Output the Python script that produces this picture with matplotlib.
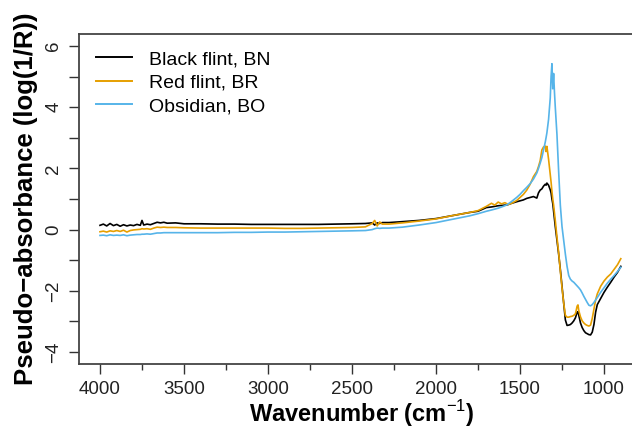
import matplotlib
matplotlib.use("Agg")
import matplotlib.pyplot as plt
import numpy as np

plt.rcParams['font.family'] = ['Liberation Sans', 'DejaVu Sans']
plt.rcParams['mathtext.fontset'] = 'custom'
plt.rcParams['mathtext.rm'] = 'Liberation Sans'
plt.rcParams['mathtext.bf'] = 'Liberation Sans:bold'

wavenumber = [4000, 3980, 3960, 3940, 3920, 3900, 3880, 3860, 3840, 3820, 3800, 3780,
              3760, 3750, 3740, 3720, 3700, 3680, 3660, 3640, 3620, 3600, 3550, 3500,
              3400, 3300, 3200, 3100, 3000, 2900, 2800, 2700, 2600, 2500, 2420, 2380,
              2365, 2350, 2335, 2320, 2280, 2200, 2100, 2000, 1900, 1800, 1750, 1700,
              1670, 1650, 1630, 1610, 1590, 1570, 1550, 1520, 1500, 1480, 1460, 1440,
              1420, 1400, 1390, 1380, 1370, 1360, 1350, 1345, 1340, 1330, 1320, 1315,
              1310, 1305, 1300, 1295, 1290, 1280, 1270, 1260, 1250, 1240, 1230, 1220,
              1210, 1200, 1190, 1180, 1170, 1160, 1155, 1150, 1140, 1130, 1120, 1110,
              1100, 1090, 1080, 1070, 1060, 1050, 1040, 1020, 1000, 980, 960, 940, 920, 900]

black_flint = [0.14, 0.18, 0.12, 0.20, 0.13, 0.17, 0.11, 0.16, 0.12, 0.15, 0.13, 0.17,
               0.14, 0.30, 0.15, 0.18, 0.16, 0.20, 0.24, 0.22, 0.24, 0.21, 0.22, 0.19,
               0.19, 0.18, 0.18, 0.17, 0.17, 0.17, 0.17, 0.17, 0.18, 0.19, 0.20, 0.22,
               0.15, 0.22, 0.20, 0.23, 0.23, 0.26, 0.30, 0.36, 0.46, 0.56, 0.60, 0.72,
               0.74, 0.76, 0.78, 0.79, 0.80, 0.82, 0.86, 0.91, 0.94, 0.97, 1.02, 1.05,
               1.08, 1.03, 1.20, 1.29, 1.33, 1.42, 1.48, 1.45, 1.52, 1.45, 1.30, 1.20,
               1.00, 0.85, 0.60, 0.35, 0.10, -0.35, -0.80, -1.30, -1.85, -2.40, -2.95, -3.13,
               -3.12, -3.10, -3.05, -2.98, -2.88, -2.70, -2.68, -2.80, -3.05, -3.20, -3.30, -3.37,
               -3.40, -3.43, -3.44, -3.35, -3.10, -2.70, -2.45, -2.25, -2.05, -1.88, -1.72, -1.55, -1.40, -1.20]

red_flint = [-0.07, -0.05, -0.08, -0.04, -0.06, -0.03, -0.06, -0.02, -0.08, -0.03, -0.01, 0.00,
             0.01, 0.03, 0.02, 0.03, 0.01, 0.05, 0.08, 0.07, 0.08, 0.07, 0.07, 0.06,
             0.05, 0.05, 0.05, 0.05, 0.05, 0.04, 0.04, 0.05, 0.06, 0.07, 0.09, 0.20,
             0.30, 0.12, 0.25, 0.18, 0.18, 0.22, 0.28, 0.35, 0.46, 0.56, 0.62, 0.76,
             0.86, 0.80, 0.90, 0.84, 0.88, 0.82, 0.86, 0.95, 1.05, 1.15, 1.29, 1.48,
             1.73, 1.90, 2.06, 2.25, 2.60, 2.70, 2.73, 2.55, 2.72, 2.30, 1.80, 1.55,
             1.25, 1.00, 0.80, 0.55, 0.30, -0.25, -0.75, -1.35, -1.90, -2.40, -2.80, -2.86,
             -2.86, -2.84, -2.83, -2.80, -2.75, -2.50, -2.46, -2.65, -2.85, -2.98, -3.05, -3.10,
             -3.13, -3.15, -3.12, -2.90, -2.60, -2.30, -2.10, -1.85, -1.68, -1.55, -1.45, -1.30, -1.15, -0.95]

obsidian = [-0.19, -0.18, -0.20, -0.17, -0.19, -0.18, -0.19, -0.17, -0.20, -0.18, -0.17, -0.16,
            -0.16, -0.15, -0.15, -0.14, -0.15, -0.13, -0.11, -0.11, -0.10, -0.10, -0.10, -0.10,
            -0.10, -0.10, -0.09, -0.09, -0.08, -0.08, -0.07, -0.06, -0.05, -0.04, -0.03, 0.00,
            0.03, 0.05, 0.04, 0.05, 0.05, 0.08, 0.15, 0.23, 0.34, 0.45, 0.52, 0.60,
            0.64, 0.67, 0.70, 0.74, 0.78, 0.84, 0.92, 1.05, 1.15, 1.27, 1.38, 1.50,
            1.65, 1.85, 2.00, 2.17, 2.35, 2.60, 2.85, 3.00, 3.16, 3.60, 4.30, 5.00,
            5.42, 4.60, 5.10, 4.50, 4.00, 3.10, 1.90, 0.80, 0.10, -0.35, -0.80, -1.20,
            -1.50, -1.62, -1.68, -1.72, -1.78, -1.84, -1.87, -1.90, -1.97, -2.07, -2.18, -2.28,
            -2.38, -2.47, -2.49, -2.45, -2.38, -2.30, -2.22, -2.05, -1.90, -1.75, -1.62, -1.50, -1.37, -1.23]

series_names = ["Black flint, BN", "Red flint, BR", "Obsidian, BO"]
series_colors = ["#000000", "#E69F00", "#56B4E9"]

W, H = 632, 428
fig = plt.figure(figsize=(W / 100, H / 100), dpi=100)
left, right, top, bottom = 79, 645, 34, 364
ax = fig.add_axes([left / W, (H - bottom) / H, (right - left) / W, (bottom - top) / H])

for vals, name, col in zip([black_flint, red_flint, obsidian], series_names, series_colors):
    ax.plot(wavenumber, vals, color=col, lw=1.2, label=name)

ax.set_xlim(4125, 756)
ax.set_ylim(-4.39, 6.39)

ax.set_xticks([4000, 3500, 3000, 2500, 2000, 1500, 1000])
ax.set_xticks([3750, 3250, 2750, 2250, 1750, 1250], minor=True)
ax.set_yticks(list(range(-4, 7)))
ax.set_yticklabels([("\u2212%d" % -v if v < 0 else "%d" % v) if v % 2 == 0 else "" for v in range(-4, 7)])

ax.tick_params(axis='both', which='major', length=7, width=1.0, color='#333333',
               labelsize=13.5, labelcolor='#222222', direction='out')
ax.tick_params(axis='x', which='minor', length=4, width=1.0, color='#333333', direction='out')
ax.tick_params(axis='x', which='major', pad=5)
ax.tick_params(axis='y', which='major', pad=5)
for lab in ax.get_yticklabels():
    lab.set_rotation(90)
    lab.set_va('center')

for s in ax.spines.values():
    s.set_color('#444444')
    s.set_linewidth(1.3)

ax.set_xlabel("Wavenumber (cm$^{\u22121}$)", fontsize=17, fontweight='bold', labelpad=0)
ax.set_ylabel("Pseudo\u2212absorbance (log(1/R))", fontsize=18.5, fontweight='bold', labelpad=5)

leg = ax.legend(loc='upper left', frameon=False, fontsize=14, handlelength=1.85,
                handletextpad=0.88, labelspacing=0.3, borderaxespad=0.45,
                bbox_to_anchor=(0.0, 1.0))
for line in leg.get_lines():
    line.set_linewidth(1.4)

fig.savefig("out.png", dpi=100)
